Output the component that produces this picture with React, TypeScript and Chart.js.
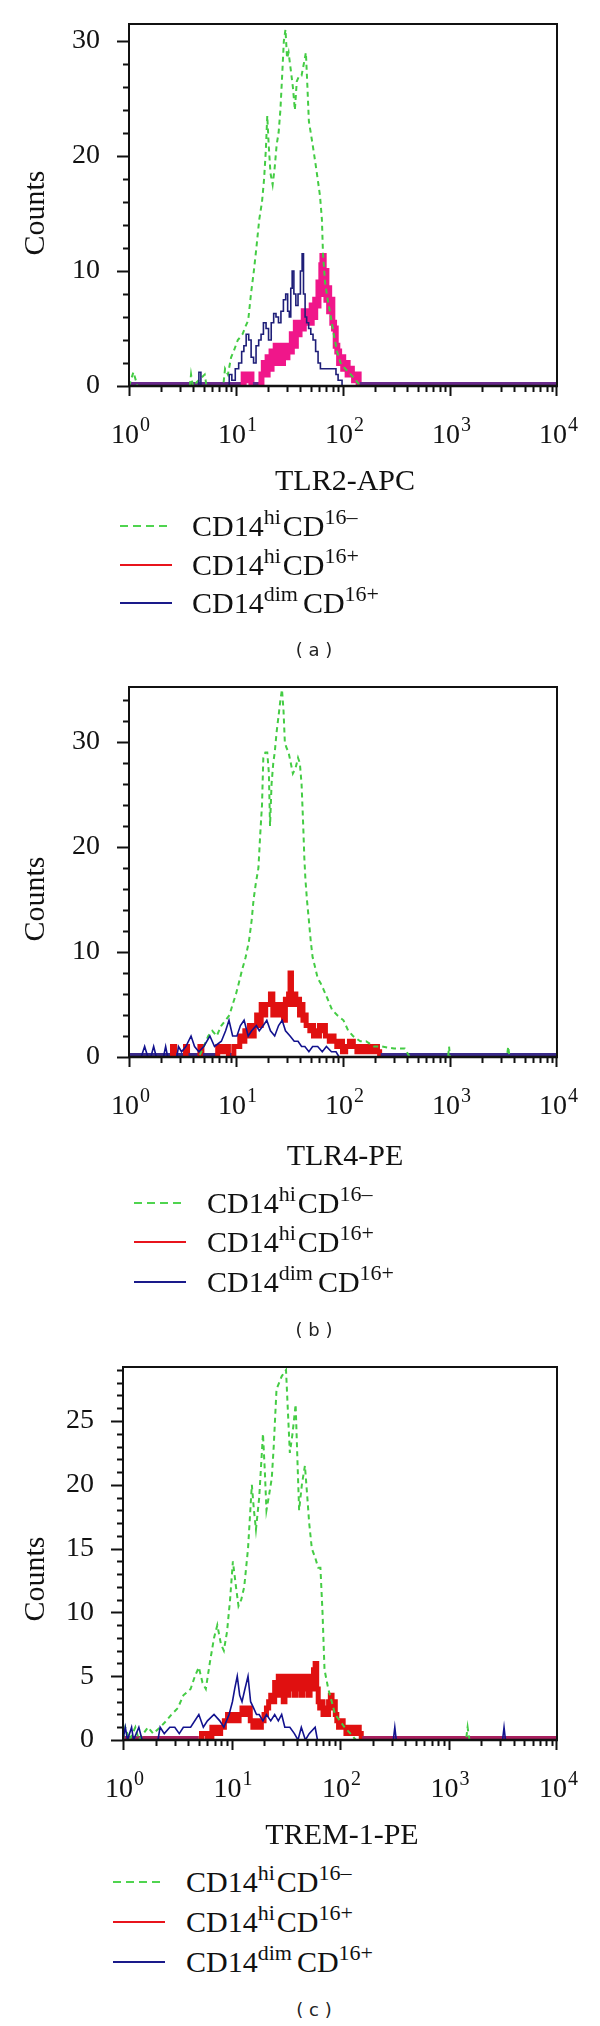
import React, { useEffect, useRef } from "react";
import { Chart, registerables } from "chart.js";
Chart.register(...registerables);

// ---------- tick labels ----------
const xTickExponents = [0, 1, 2, 3, 4];
const yTicksA = [0, 10, 20, 30];
const yTicksB = [0, 10, 20, 30];
const yTicksC = [0, 5, 10, 15, 20, 25];

// ---------- panel (a) TLR2-APC ----------
const aGreenX = [1, 1.1, 1.2, 3.7, 3.8, 3.95, 5.1, 5.3, 7.6, 7.9, 8.4, 9.0, 9.5, 10.4, 11.5, 12.3, 13.0, 13.8, 14.6, 15.5, 16.5, 17.5, 18.3, 19.0, 19.6, 20.2, 21.0, 22.0, 23.0, 24.0, 25.0, 26.0, 27.0, 28.0, 29.0, 30.0, 31.0, 32.5, 34.0, 35.5, 37.0, 39.0, 41.0, 43.0, 45.0, 46.5, 48.0, 50.0, 52.0, 55.0, 58.0, 61.0, 63.5, 65.0, 68.0, 72.0, 77.0, 82.0, 88.0, 95.0, 105, 118, 132, 145, 10000];
const aGreenY = [0, 1.2, 0, 0, 1, 0, 1, 0, 0, 1.5, 1, 2.5, 3, 4, 4.5, 5.2, 5.7, 8, 9.8, 12, 14.5, 16, 18, 20.5, 23.5, 21, 18.5, 17.5, 19, 21, 22, 24, 27, 30, 31, 28.5, 29, 27.5, 26, 24, 26.5, 27, 27, 28, 29, 26, 23, 22, 21, 19.5, 18, 16.5, 14.5, 11.5, 9, 7.5, 6, 4.5, 3, 2, 1.5, 1, 0.5, 0, 0];
const aRedX = [1, 11.5, 12.1, 12.8, 13.5, 14.4, 15.5, 16.8, 17.8, 18.6, 19.3, 20.2, 21.0, 22.0, 23.0, 24.0, 25.0, 26.0, 27.0, 28.0, 29.5, 31.0, 32.5, 34.0, 35.5, 37.0, 38.5, 40.0, 42.0, 44.0, 46.0, 48.0, 50.0, 52.0, 54.0, 56.0, 58.0, 60.0, 62.0, 63.5, 65.0, 67.0, 69.0, 71.0, 73.0, 75.5, 78.0, 81.0, 84.0, 87.0, 90.0, 94.0, 98.0, 103, 108, 113, 118, 124, 130, 137, 143, 10000];
const aRedY = [0, 0, 1, 0.5, 1, 0, 0, 0, 1, 2, 1, 2.5, 1.5, 3, 2, 3.5, 2, 3.5, 2, 3.5, 2.5, 3.5, 3, 4.5, 3.5, 5.5, 4.5, 5.5, 5, 6.5, 5.5, 6.5, 5.5, 7, 6, 7.5, 7, 9, 8, 10.5, 11.3, 9, 10, 7.5, 8.5, 6.5, 7.5, 5.5, 5, 3.5, 3, 2, 2.5, 1.5, 2, 1, 1.5, 1, 0.5, 1, 0, 0];
const aBlueX = [1, 4.4, 4.6, 4.8, 8.5, 8.8, 9.5, 10.2, 11.0, 11.6, 12.1, 12.8, 13.5, 14.2, 15.0, 15.8, 16.8, 17.5, 18.6, 19.6, 20.7, 22.0, 23.0, 24.3, 25.6, 27.0, 28.5, 29.8, 31.0, 32.0, 33.0, 34.0, 35.5, 37.0, 39.0, 41.0, 42.0, 43.5, 45.0, 46.5, 49.0, 51.0, 54.0, 57.0, 60.0, 63.0, 67.0, 71.0, 78.0, 84.0, 88.0, 92.0, 96.0, 100, 10000];
const aBlueY = [0, 0, 1.2, 0, 0, 1, 0.5, 1.5, 2, 3, 3.5, 4.5, 4, 2.5, 2, 3.5, 4, 4.5, 5.5, 5, 4, 5.5, 6.3, 6, 5.5, 6.5, 7.5, 8, 6.5, 6, 8.5, 10, 8, 7, 8, 10, 11.5, 8, 6, 5.5, 5, 4.5, 4, 3, 2, 1.5, 1.5, 1.5, 1.5, 1.5, 1, 0.5, 0.5, 0, 0];

// ---------- panel (b) TLR4-PE ----------
const bGreenX = [1, 4.5, 5.0, 5.5, 6.0, 6.6, 7.3, 8.0, 8.7, 9.3, 10.0, 10.6, 11.4, 12.3, 13.2, 14.0, 14.6, 15.3, 16.2, 16.8, 17.5, 18.0, 18.8, 19.6, 20.3, 20.8, 21.5, 22.3, 23.0, 24.0, 25.0, 26.0, 26.9, 27.8, 28.6, 29.5, 31.0, 32.5, 34.0, 36.0, 38.0, 39.5, 41.0, 42.5, 43.5, 44.5, 46.0, 48.0, 50.0, 52.0, 55.0, 58.0, 62.0, 66.0, 72.0, 79.0, 88.0, 101, 112, 124, 145, 164, 195, 230, 300, 378, 420, 960, 980, 1000, 3400, 3500, 3600, 10000];
const bGreenY = [0, 0, 1, 2, 2.5, 2, 3, 3.5, 4, 5, 6, 7, 8.3, 9.5, 11, 13, 15, 16.5, 18, 21, 24, 28.5, 29, 29, 27, 22, 26, 28, 29, 31, 32.5, 34, 35, 33, 30, 29.5, 29, 28, 27, 27.5, 28.5, 28, 26, 22, 19, 17, 15, 13, 11, 9.5, 8.5, 7.5, 7, 6.4, 5.5, 4.5, 4, 3.5, 2.5, 2, 1.5, 1.5, 1, 1, 0.8, 0.8, 0, 0, 1, 0, 0, 1, 0, 0];
const bRedX = [1, 2.5, 2.6, 2.75, 3.3, 3.45, 3.6, 4.5, 4.7, 4.9, 6.5, 7.0, 7.5, 8.2, 8.8, 9.3, 9.8, 10.5, 11.2, 11.8, 12.4, 13.0, 13.7, 14.4, 15.2, 16.0, 16.8, 17.6, 18.5, 19.4, 20.4, 21.6, 22.6, 23.7, 24.8, 26.0, 27.2, 28.4, 29.5, 30.5, 31.5, 32.5, 33.5, 34.5, 35.5, 37.0, 38.5, 40.0, 41.5, 43.0, 44.5, 46.0, 48.0, 50.0, 52.0, 54.0, 56.5, 59.0, 61.5, 64.0, 67.0, 70.0, 73.0, 76.0, 80.0, 85.0, 90.0, 96.0, 102, 110, 120, 130, 140, 150, 162, 175, 190, 205, 215, 225, 10000];
const bRedY = [0, 0, 1, 0, 0, 1, 0, 0, 1, 0, 0, 1, 0.5, 1, 0, 0, 1, 1, 2, 1.5, 2.5, 2, 3, 2, 3, 4, 3, 5, 4, 5, 5, 6, 4, 5, 4, 5, 4, 3.5, 5.5, 5, 6, 8, 6, 5, 6, 5, 5.5, 4, 5, 3.5, 4, 3, 3, 2.5, 3, 2, 2.5, 2, 3, 2.5, 3, 2, 2, 1.5, 2, 1.5, 1, 1.5, 0.5, 1, 1.5, 1, 0.5, 1, 0.5, 1, 0.5, 1, 0.5, 0, 0];
const bBlueX = [1, 1.3, 1.4, 1.5, 1.6, 1.7, 1.8, 2.1, 2.2, 2.3, 2.8, 2.9, 3.1, 3.4, 3.8, 4.1, 4.5, 5.0, 5.7, 6.3, 7.3, 8.0, 8.6, 9.3, 10.2, 11.0, 11.9, 13.0, 14.0, 15.5, 16.5, 18.0, 19.4, 21.0, 23.0, 25.0, 27.0, 29.0, 32.0, 35.0, 38.0, 41.0, 44.0, 48.0, 52.0, 58.0, 64.0, 70.0, 78.0, 86.0, 92.0, 10000];
const bBlueY = [0, 0, 1, 0, 0, 1, 0, 0, 1, 0, 0, 1, 0.5, 1, 2, 1, 0.5, 1, 2, 1, 1.5, 2.5, 3.5, 2, 2, 3, 3.5, 2, 2.5, 3, 2.5, 3, 3.5, 2.5, 2, 3, 3.5, 2.5, 2, 1.5, 1.5, 1, 1, 0.5, 1, 1, 0.5, 1, 0.5, 0.5, 0, 0];

// ---------- panel (c) TREM-1-PE ----------
const cGreenX = [1, 1.05, 1.15, 1.3, 1.4, 1.7, 1.9, 2.2, 2.5, 2.8, 3.2, 3.6, 4.2, 4.6, 5.0, 5.4, 5.8, 6.3, 6.9, 7.4, 8.0, 8.5, 9.1, 9.7, 10.3, 11.0, 11.6, 12.3, 13.1, 14.2, 15.4, 16.1, 16.8, 18.0, 19.5, 20.3, 21.0, 22.0, 23.5, 24.5, 26.0, 27.5, 29.0, 31.8, 33.0, 34.5, 36.5, 39.0, 40.5, 42.0, 44.5, 47.5, 50.0, 52.0, 55.0, 59.0, 63.0, 66.0, 69.0, 72.0, 78.0, 84.0, 90.0, 100, 110, 125, 140, 1450, 1500, 1560, 10000];
const cGreenY = [0, 1, 0, 1, 0, 1, 0.5, 1, 1.5, 2, 2.5, 3.5, 4, 5, 5.7, 4.5, 4, 6, 8, 9, 7.5, 7, 8.5, 11, 14, 12, 10.5, 11, 12, 15, 20, 18, 16.5, 19, 24, 21, 18, 19, 20.5, 23, 27.5, 28, 28.5, 29, 26, 22.5, 24, 26.3, 22, 18, 20, 21.5, 19, 17, 15, 14.3, 13.5, 13.5, 10, 5.5, 4, 3, 2, 1.5, 1, 0.5, 0, 0, 1, 0, 0];
const cRedX = [1, 5.0, 5.6, 6.3, 6.9, 7.6, 8.3, 8.9, 9.5, 10.1, 10.7, 11.4, 12.1, 12.9, 13.7, 14.5, 15.3, 16.2, 17.2, 18.3, 19.4, 20.5, 21.5, 22.5, 23.5, 24.5, 25.5, 26.5, 27.5, 28.5, 29.5, 30.5, 31.7, 33.0, 34.3, 35.6, 37.0, 38.5, 40.0, 41.5, 43.0, 44.7, 46.4, 48.2, 50.0, 52.0, 54.0, 56.0, 58.0, 60.0, 62.0, 64.0, 66.0, 68.5, 71.0, 74.0, 77.0, 80.0, 83.0, 86.0, 89.0, 92.0, 95.0, 99.0, 104, 110, 117, 124, 132, 140, 147, 154, 160, 10000];
const cRedY = [0, 0, 0.5, 0, 1, 0.5, 1, 1.5, 2, 1.5, 2, 1.5, 2, 2.5, 2, 2.5, 1.5, 1, 1.5, 1, 1.5, 2, 2.5, 3, 3.5, 3, 4.5, 3.5, 5, 3.5, 4.5, 3, 5, 3.5, 5, 4, 5, 3.5, 5, 4, 5, 3.5, 5, 4, 5, 3.5, 5, 4, 5.5, 6, 4, 3, 2.5, 3, 2, 2.5, 2, 3, 3.5, 2.5, 3, 2, 1.5, 1, 1.5, 1, 0.5, 1, 0.5, 1, 1, 0.5, 0, 0];
const cBlueX = [1, 1.05, 1.1, 1.2, 1.25, 1.4, 1.5, 2.1, 2.2, 2.4, 2.7, 3.0, 3.3, 3.6, 4.2, 5.0, 5.5, 6.0, 6.9, 7.8, 8.5, 9.5, 10.2, 10.7, 11.3, 11.9, 12.5, 13.3, 14.2, 15.0, 16.0, 17.0, 18.0, 19.5, 21.0, 23.0, 25.0, 27.0, 29.0, 31.0, 34.5, 38.0, 41.0, 44.0, 48.0, 52.0, 59.0, 62.0, 310, 320, 330, 3150, 3250, 3350, 10000];
const cBlueY = [0, 1, 0, 1, 0, 1, 0, 0, 1, 0.5, 1, 1, 0.5, 1, 1, 2, 1, 1.5, 2, 1.5, 1, 2, 3, 4, 5, 3.5, 3, 4, 5, 3, 2.5, 2, 2, 1.5, 2, 1.5, 2, 1.5, 2, 1, 1, 0.5, 0, 1, 0, 0.5, 1, 0, 0, 1, 0, 0, 1, 0, 0];

// ---------- legend ----------
const legendMain = ["CD14", "CD14", "CD14"];
const legendSupA = ["hi", "hi", "dim"];
const legendSupB = ["16\u2013", "16+", "16+"];
const legendColors = ["#4fd44f", "#e8141c", "#1a1a8a"];

const SERIF = '"Liberation Serif", "Times New Roman", serif';

type Cfg = {
  key: string;
  canvasTop: number;
  canvasHeight: number;
  L: number; R: number; T: number; B: number;
  yMax: number;
  yTicks: number[];
  yMinor: number;
  countsY: number;
  titleY: number;
  xTitle: string;
  green: [number[], number[]];
  red: [number[], number[]];
  blue: [number[], number[]];
  redColor: string;
  redWidth: number;
  blueColor: string;
  blueStepped: boolean;
  baseColor: string;
  lineX: number;
  textX: number;
  rows: number[];
  caption: string;
  captionY: number;
};

const panels: Cfg[] = [
  {
    key: "a", canvasTop: 0, canvasHeight: 520, L: 129, R: 557, T: 24, B: 386,
    yMax: 31.48, yTicks: yTicksA, yMinor: 2, countsY: 213, titleY: 482, xTitle: "TLR2-APC",
    green: [aGreenX, aGreenY], red: [aRedX, aRedY], blue: [aBlueX, aBlueY],
    redColor: "#f0168a", redWidth: 6, blueColor: "#1e1e78", blueStepped: true, baseColor: "#6a2a8c",
    lineX: 120, textX: 192, rows: [526, 565, 603], caption: "( a )", captionY: 650,
  },
  {
    key: "b", canvasTop: 660, canvasHeight: 530, L: 129, R: 557, T: 687, B: 1057,
    yMax: 35.24, yTicks: yTicksB, yMinor: 2, countsY: 899, titleY: 1157, xTitle: "TLR4-PE",
    green: [bGreenX, bGreenY], red: [bRedX, bRedY], blue: [bBlueX, bBlueY],
    redColor: "#e01010", redWidth: 5, blueColor: "#12128e", blueStepped: false, baseColor: "#3a2a8a",
    lineX: 134, textX: 207, rows: [1203, 1242, 1282], caption: "( b )", captionY: 1330,
  },
  {
    key: "c", canvasTop: 1340, canvasHeight: 520, L: 123, R: 557, T: 1367, B: 1740,
    yMax: 29.23, yTicks: yTicksC, yMinor: 1, countsY: 1579, titleY: 1836, xTitle: "TREM-1-PE",
    green: [cGreenX, cGreenY], red: [cRedX, cRedY], blue: [cBlueX, cBlueY],
    redColor: "#e01010", redWidth: 5, blueColor: "#12128e", blueStepped: false, baseColor: "#a8205e",
    lineX: 113, textX: 186, rows: [1882, 1922, 1962], caption: "( c )", captionY: 2010,
  },
];

function zip(xs: number[], ys: number[]) {
  return xs.map((x, i) => ({ x, y: ys[i] }));
}

function framePlugin(cfg: Cfg) {
  return {
    id: "frame_" + cfg.key,
    afterDraw(chart: any) {
      const ctx = chart.ctx;
      const a = chart.chartArea;
      const xs = chart.scales.x;
      const ys = chart.scales.y;
      ctx.save();
      ctx.strokeStyle = "#111";
      ctx.fillStyle = "#111";
      // frame
      ctx.lineWidth = 2;
      ctx.strokeRect(a.left, a.top, a.right - a.left, a.bottom - a.top);
      ctx.lineWidth = 2.5;
      ctx.beginPath();
      ctx.moveTo(a.left, a.bottom);
      ctx.lineTo(a.right + 1, a.bottom);
      ctx.stroke();
      // y ticks
      ctx.lineWidth = 2;
      const n = Math.floor(cfg.yMax / cfg.yMinor + 1e-6);
      for (let i = 0; i <= n; i++) {
        const v = i * cfg.yMinor;
        const py = Math.round(ys.getPixelForValue(v)) + 0.5;
        const len = cfg.yTicks.includes(v) ? 12 : 6;
        ctx.beginPath();
        ctx.moveTo(a.left - len, py);
        ctx.lineTo(a.left, py);
        ctx.stroke();
      }
      // x ticks
      for (let e = 0; e < 4; e++) {
        for (let m = 1; m <= 9; m++) {
          const px = Math.round(xs.getPixelForValue(m * Math.pow(10, e))) + 0.5;
          const len = m === 1 ? 10 : 6;
          ctx.beginPath();
          ctx.moveTo(px, a.bottom);
          ctx.lineTo(px, a.bottom + len);
          ctx.stroke();
        }
      }
      {
        const px = Math.round(xs.getPixelForValue(10000)) - 0.5;
        ctx.beginPath();
        ctx.moveTo(px, a.bottom);
        ctx.lineTo(px, a.bottom + 10);
        ctx.stroke();
      }
      // y labels
      ctx.font = "28px " + SERIF;
      ctx.textAlign = "right";
      ctx.textBaseline = "middle";
      for (const v of cfg.yTicks) {
        ctx.fillText(String(v), a.left - 29, ys.getPixelForValue(v));
      }
      // x labels with superscript
      const baseY = a.bottom + 57;
      for (const e of xTickExponents) {
        const cx = xs.getPixelForValue(Math.pow(10, e));
        ctx.font = "28px " + SERIF;
        const w1 = ctx.measureText("10").width;
        ctx.font = "20px " + SERIF;
        const w2 = ctx.measureText(String(e)).width;
        const start = cx - (w1 + w2) / 2 + 1;
        ctx.textAlign = "left";
        ctx.textBaseline = "alphabetic";
        ctx.font = "28px " + SERIF;
        ctx.fillText("10", start, baseY);
        ctx.font = "20px " + SERIF;
        ctx.fillText(String(e), start + w1 + 1, baseY - 12);
      }
      // axis titles
      ctx.font = "30px " + SERIF;
      ctx.textAlign = "center";
      ctx.textBaseline = "middle";
      ctx.fillText(cfg.xTitle, (a.left + a.right) / 2 + 2, cfg.titleY - cfg.canvasTop);
      ctx.save();
      ctx.translate(36, cfg.countsY - cfg.canvasTop);
      ctx.rotate(-Math.PI / 2);
      ctx.fillText("Counts", 0, 0);
      ctx.restore();
      ctx.restore();
    },
  };
}

function Panel({ cfg }: { cfg: Cfg }) {
  const ref = useRef<HTMLCanvasElement | null>(null);
  useEffect(() => {
    const canvas = ref.current;
    if (!canvas) return;
    const isBase = (c: any) => c.p0.parsed.y === 0 && c.p1.parsed.y === 0;
    const chart = new Chart(canvas, {
      type: "line",
      data: {
        datasets: [
          {
            label: "CD14dimCD16+",
            data: zip(cfg.blue[0], cfg.blue[1]),
            borderColor: cfg.blueColor,
            borderWidth: 1.6,
            pointRadius: 0,
            stepped: cfg.blueStepped ? "middle" : false,
            tension: 0,
            clip: 0,
            order: 0,
          },
          {
            label: "CD14hiCD16-",
            data: zip(cfg.green[0], cfg.green[1]),
            borderColor: "#44cc44",
            borderWidth: 2,
            borderDash: [5, 4],
            pointRadius: 0,
            tension: 0,
            clip: 0,
            order: 1,
          },
          {
            label: "CD14hiCD16+",
            data: zip(cfg.red[0], cfg.red[1]),
            borderColor: cfg.redColor,
            borderWidth: cfg.redWidth,
            pointRadius: 0,
            stepped: "middle",
            tension: 0,
            clip: 0,
            order: 2,
            segment: {
              borderColor: (c: any) => (isBase(c) ? cfg.baseColor : undefined),
              borderWidth: (c: any) => (isBase(c) ? 8 : undefined),
            },
          },
        ],
      },
      options: {
        animation: false,
        responsive: false,
        maintainAspectRatio: false,
        events: [],
        layout: {
          padding: {
            left: cfg.L,
            right: 600 - cfg.R,
            top: cfg.T - cfg.canvasTop,
            bottom: cfg.canvasTop + cfg.canvasHeight - cfg.B,
          },
        },
        plugins: { legend: { display: false }, tooltip: { enabled: false } },
        scales: {
          x: { type: "logarithmic", min: 1, max: 10000, display: false },
          y: { type: "linear", min: 0, max: cfg.yMax, display: false },
        },
      },
      plugins: [framePlugin(cfg)],
    } as any);
    return () => chart.destroy();
  }, [cfg]);

  const supStyle: React.CSSProperties = { fontSize: 22, position: "relative", top: -12, lineHeight: 1 };

  return (
    <>
      <canvas
        ref={ref}
        width={600}
        height={cfg.canvasHeight}
        style={{ position: "absolute", left: 0, top: cfg.canvasTop, width: 600, height: cfg.canvasHeight }}
      />
      {cfg.rows.map((y, i) => (
        <React.Fragment key={i}>
          <svg
            width={52}
            height={6}
            style={{ position: "absolute", left: cfg.lineX, top: y - 3 }}
          >
            <line
              x1={0}
              y1={3}
              x2={52}
              y2={3}
              stroke={legendColors[i]}
              strokeWidth={2}
              strokeDasharray={i === 0 ? "8 5" : undefined}
            />
          </svg>
          <div
            style={{
              position: "absolute",
              left: cfg.textX,
              top: y - 20,
              height: 40,
              lineHeight: "40px",
              fontFamily: SERIF,
              fontSize: 30,
              color: "#111",
              whiteSpace: "nowrap",
            }}
          >
            {legendMain[i]}
            <span style={{ ...supStyle, marginRight: i === 2 ? 5 : 2 }}>{legendSupA[i]}</span>
            CD
            <span style={supStyle}>{legendSupB[i]}</span>
          </div>
        </React.Fragment>
      ))}
      <div
        style={{
          position: "absolute",
          left: 314 - 60,
          width: 120,
          top: cfg.captionY - 12,
          height: 24,
          lineHeight: "24px",
          textAlign: "center",
          fontFamily: '"DejaVu Sans", sans-serif',
          fontSize: 18,
          color: "#222",
          whiteSpace: "pre",
        }}
      >
        {cfg.caption}
      </div>
    </>
  );
}

export default function App() {
  return (
    <div
      style={{
        position: "absolute",
        left: 0,
        top: 0,
        width: 600,
        height: 2026,
        background: "#fff",
        overflow: "hidden",
      }}
    >
      {panels.map((p) => (
        <Panel key={p.key} cfg={p} />
      ))}
    </div>
  );
}
